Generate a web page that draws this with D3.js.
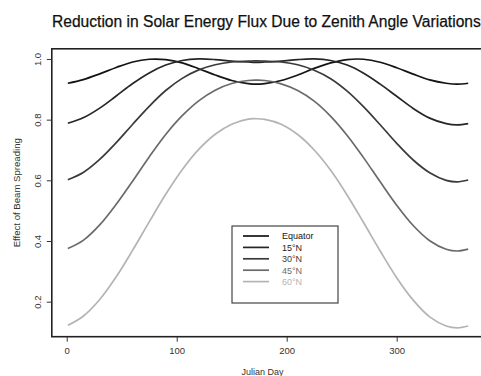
<!DOCTYPE html>
<html>
<head>
<meta charset="utf-8">
<script src="https://cdn.jsdelivr.net/npm/d3@7"></script>
<style>
  body { margin: 0; background: #fff; }
  svg { display: block; font-family: "Liberation Sans", Arial, sans-serif; }
</style>
</head>
<body>
<script>
var days = [1, 15, 30, 45, 60, 75, 90, 105, 120, 135, 150, 165, 172, 180, 195, 210, 225, 240, 255, 270, 285, 300, 315, 330, 345, 355, 365];

var equator = [0.920, 0.932, 0.951, 0.972, 0.990, 0.999, 0.998, 0.987, 0.968, 0.947, 0.929, 0.919, 0.917, 0.919, 0.929, 0.947, 0.969, 0.987, 0.998, 0.999, 0.989, 0.971, 0.950, 0.931, 0.920, 0.917, 0.920];
var lat15 = [0.788, 0.806, 0.838, 0.878, 0.919, 0.954, 0.980, 0.995, 1.000, 0.998, 0.993, 0.990, 0.989, 0.990, 0.993, 0.998, 1.000, 0.995, 0.980, 0.953, 0.917, 0.877, 0.837, 0.805, 0.787, 0.783, 0.787];
var lat30 = [0.602, 0.626, 0.669, 0.724, 0.785, 0.844, 0.896, 0.936, 0.964, 0.981, 0.990, 0.993, 0.994, 0.993, 0.990, 0.981, 0.963, 0.935, 0.894, 0.842, 0.783, 0.722, 0.667, 0.625, 0.600, 0.595, 0.601];
var lat45 = [0.375, 0.402, 0.453, 0.521, 0.598, 0.677, 0.751, 0.813, 0.862, 0.897, 0.919, 0.929, 0.930, 0.929, 0.918, 0.896, 0.861, 0.811, 0.748, 0.674, 0.595, 0.518, 0.451, 0.401, 0.373, 0.367, 0.373];
var lat60 = [0.122, 0.152, 0.207, 0.282, 0.370, 0.463, 0.554, 0.635, 0.702, 0.752, 0.785, 0.802, 0.803, 0.801, 0.785, 0.751, 0.700, 0.633, 0.551, 0.460, 0.367, 0.279, 0.205, 0.150, 0.120, 0.114, 0.120];

var seriesNames = ["Equator", "15\u00b0N", "30\u00b0N", "45\u00b0N", "60\u00b0N"];
var seriesValues = [equator, lat15, lat30, lat45, lat60];
var seriesColors = ["#141414", "#262626", "#3a3a3a", "#6a6a6a", "#b4b4b4"];

var xTicks = [0, 100, 200, 300];
var yTicks = [0.2, 0.4, 0.6, 0.8, 1.0];

var w = 481;
var h = 376;

var svg = d3.select("body")
            .append("svg")
            .attr("width", w)
            .attr("height", h);

// R style padded ranges
var x = d3.scaleLinear().domain([-13.56, 379.56]).range([51.8, 484.2]);
var y = d3.scaleLinear().domain([0.0846, 1.0335]).range([336.7, 48.8]);

// title (runs off the right edge like the original)
svg.append("text")
   .attr("x", 52)
   .attr("y", 26.5)
   .attr("font-size", 15.6)
   .attr("fill", "#111")
   .attr("stroke", "#111")
   .attr("stroke-width", 0.25)
   .text("Reduction in Solar Energy Flux Due to Zenith Angle Variations");

// curves
var line = d3.line()
  .x(function(d) { return x(d[0]); })
  .y(function(d) { return y(d[1]); })
  .curve(d3.curveCatmullRom);

seriesValues.forEach(function(vals, i) {
  svg.append("path")
     .datum(days.map(function(d, j) { return [d, vals[j]]; }))
     .attr("d", line)
     .attr("fill", "none")
     .attr("stroke", seriesColors[i])
     .attr("stroke-width", 1.7);
});

// box around plot
svg.append("rect")
   .attr("x", x.range()[0])
   .attr("y", y.range()[1])
   .attr("width", x.range()[1] - x.range()[0])
   .attr("height", y.range()[0] - y.range()[1])
   .attr("fill", "none")
   .attr("stroke", "#222")
   .attr("stroke-width", 1.6);

// x axis
var xAxis = svg.append("g")
   .attr("transform", "translate(0," + y.range()[0] + ")")
   .call(d3.axisBottom(x).tickValues(xTicks).tickSize(5).tickPadding(6).tickFormat(d3.format("d")));
xAxis.select(".domain").remove();
xAxis.selectAll("line").attr("stroke", "#333");
xAxis.selectAll("text").attr("font-size", 9.5).attr("fill", "#333").attr("font-family", "Liberation Sans, Arial, sans-serif");

// y axis, labels parallel to the axis
var yAxis = svg.append("g")
   .attr("transform", "translate(" + x.range()[0] + ",0)")
   .call(d3.axisLeft(y).tickValues(yTicks).tickSize(5).tickFormat(d3.format(".1f")));
yAxis.select(".domain").remove();
yAxis.selectAll("line").attr("stroke", "#333");
yAxis.selectAll("text")
   .attr("font-size", 9.5)
   .attr("fill", "#333")
   .attr("font-family", "Liberation Sans, Arial, sans-serif")
   .attr("x", 0)
   .attr("dy", 0)
   .attr("text-anchor", "middle")
   .attr("transform", "translate(-11,0) rotate(-90)");

// axis titles
svg.append("text")
   .attr("x", (x(0) + x(365)) / 2 - 5)
   .attr("y", 374.5)
   .attr("text-anchor", "middle")
   .attr("font-size", 9)
   .attr("fill", "#333")
   .text("Julian Day");

svg.append("text")
   .attr("transform", "translate(20," + ((y.range()[0] + y.range()[1]) / 2) + ") rotate(-90)")
   .attr("text-anchor", "middle")
   .attr("font-size", 9.6)
   .attr("fill", "#333")
   .text("Effect of Beam Spreading");

// legend
var legend = svg.append("g").attr("transform", "translate(232,226)");
legend.append("rect")
   .attr("width", 106)
   .attr("height", 77)
   .attr("fill", "#fff")
   .attr("stroke", "#444")
   .attr("stroke-width", 1.2);

seriesNames.forEach(function(name, i) {
  var ry = 10 + i * 11.4;
  legend.append("line")
     .attr("x1", 11).attr("x2", 37)
     .attr("y1", ry).attr("y2", ry)
     .attr("stroke", seriesColors[i])
     .attr("stroke-width", 1.7);
  legend.append("text")
     .attr("x", 50)
     .attr("y", ry + 3.3)
     .attr("font-size", 9)
     .attr("fill", seriesColors[i])
     .text(name);
});
</script>
</body>
</html>
